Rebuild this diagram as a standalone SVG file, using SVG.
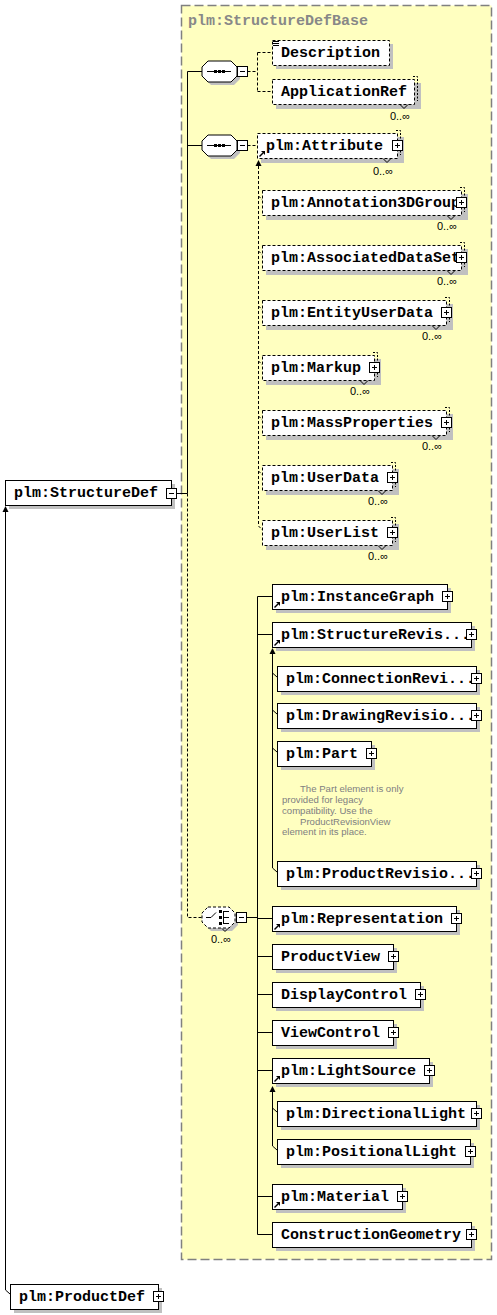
<svg xmlns="http://www.w3.org/2000/svg" width="497" height="1315" viewBox="0 0 497 1315">
<style>
.bg{fill:#ffffc0;stroke:#808080;stroke-width:1.5;stroke-dasharray:9 4}
.sh{fill:#c0c0c0}
.bx{fill:#fff;stroke:#000;stroke-width:1}
.o{stroke-dasharray:3 2}
.bk{fill:none;stroke:#000;stroke-dasharray:2 1.5}
.c{fill:none;stroke:#000;stroke-width:1}
.d{fill:none;stroke:#000;stroke-width:1;stroke-dasharray:3 2}
.t{font-family:"Liberation Mono",monospace;font-weight:bold;font-size:15px;fill:#000}
.tt{font-family:"Liberation Mono",monospace;font-weight:bold;font-size:15px;fill:#888}
.m{font-family:"Liberation Sans",Arial,sans-serif;font-size:11px;fill:#000}
.a{font-family:"Liberation Sans",Arial,sans-serif;font-size:9.6px;fill:#808080}
</style>
<defs>
<g id="pl"><rect x="0.5" y="0.5" width="10" height="10" fill="#fff" stroke="#000"/><path d="M3 5.5h5M5.5 3v5" stroke="#000"/></g>
<g id="mi"><rect x="0.5" y="0.5" width="10" height="10" fill="#fff" stroke="#000"/><path d="M3 5.5h5" stroke="#000"/></g>
<g id="rf"><path d="M1.5 7.5L5 4" stroke="#000" stroke-width="1.4"/><path d="M3 2H7V6Z" fill="#000"/></g>
</defs>

<rect class="bg" x="181.5" y="5.5" width="310" height="1254"/>
<text class="tt" x="188" y="25">plm:StructureDefBase</text>

<g id="connectors">
<path class="c" d="M176.5 493.5H187.5M187.5 71.5V493.5M187.5 71.5H202M187.5 145.5H202"/>
<path class="d" d="M187.5 493.5V917.5H202"/>
<path class="d" d="M247.5 71.5H257.5M257.5 52.5V91.5M257.5 52.5H272M257.5 91.5H272"/>
<path class="d" d="M247.5 145.5H257"/>
<path d="M255.5 166L258.5 160L261.5 166Z" fill="#000"/>
<path class="d" d="M258.5 166V526M258.5 526L262.5 530M258.5 196L262.5 200M258.5 251L262.5 255M258.5 306L262.5 310M258.5 361L262.5 365M258.5 416L262.5 420M258.5 471L262.5 475"/>
<path class="c" d="M246.5 917.5H257.5M257.5 596.5V1234.5M257.5 596.5H272M257.5 634.5H272M257.5 918.5H272M257.5 956.5H272M257.5 994.5H272M257.5 1032.5H272M257.5 1070.5H272M257.5 1196.5H272M257.5 1234.5H272"/>
<path d="M269.5 654L272.5 648L275.5 654Z" fill="#000"/>
<path class="c" d="M272.5 654V868L277 872M272.5 673L277 677M272.5 710L277 714M272.5 748L277 752"/>
<path d="M269.5 1092L272.5 1086L275.5 1092Z" fill="#000"/>
<path class="c" d="M272.5 1092V1146L277 1150M272.5 1108L277 1112"/>
<path d="M2.5 512L5.5 506L8.5 512Z" fill="#000"/>
<path class="c" d="M5.5 512V1290L10 1294"/>
</g>

<g id="seq1">
<path class="sh" d="M211,64 H234 L240,70 V79 L234,85 H211 L205,79 V70 Z"/>
<path class="bx" d="M208,61 H231 L237,67 V76 L231,82 H208 L202,76 V67 Z"/>
<path class="c" d="M207 71.5H231"/>
<rect x="214" y="70" width="3" height="3"/><rect x="218" y="70" width="3" height="3"/><rect x="222" y="70" width="3" height="3"/>
<use href="#mi" x="237" y="66"/>
</g>
<g id="seq2">
<path class="sh" d="M211,138 H234 L240,144 V153 L234,159 H211 L205,153 V144 Z"/>
<path class="bx" d="M208,135 H231 L237,141 V150 L231,156 H208 L202,150 V141 Z"/>
<path class="c" d="M207 145.5H231"/>
<rect x="214" y="144" width="3" height="3"/><rect x="218" y="144" width="3" height="3"/><rect x="222" y="144" width="3" height="3"/>
<use href="#mi" x="237" y="140"/>
</g>
<g id="choice">
<path class="sh" d="M211,910 H232 L238,916 V925 L232,931 H211 L205,925 V916 Z"/>
<path class="bx o" d="M208,907 H229 L235,913 V922 L229,928 H208 L202,922 V913 Z"/>
<path class="c" d="M206 917.5H211L216 912.5M223.5 911V924M223.5 911.5H229M223.5 917.5H229M223.5 923.5H229"/>
<rect x="219" y="910" width="3" height="3"/><rect x="219" y="916" width="3" height="3"/><rect x="219" y="922" width="3" height="3"/>
<path class="c" d="M222 928.5l3 3l3 -3"/>
<use href="#mi" x="236" y="912"/>
<text class="m" x="231" y="943" text-anchor="end">0..∞</text>
</g>

<g id="StructureDef">
<rect class="sh" x="9" y="484" width="166" height="25"/>
<rect class="bx" x="5.5" y="480.5" width="166" height="25"/>
<text class="t" x="14" y="497">plm:StructureDef</text>
<use href="#mi" x="166" y="488"/>
</g>
<g id="ProductDef">
<rect class="sh" x="14" y="1288" width="148" height="25"/>
<rect class="bx" x="10.5" y="1284.5" width="148" height="25"/>
<text class="t" x="19" y="1301">plm:ProductDef</text>
<use href="#pl" x="153" y="1291"/>
</g>

<g id="Description">
<rect class="sh" x="276" y="44" width="117" height="25"/>
<rect class="bx o" x="272.5" y="40.5" width="117" height="25"/>
<path class="c" d="M273 41.5h6M273 43.5h6M273 45.5h6"/>
<text class="t" x="281" y="57">Description</text>
</g>
<g id="ApplicationRef">
<rect class="sh" x="276" y="83" width="145" height="26"/>
<path class="bk" d="M413 76.5H417.5V101"/>
<rect class="bx o" x="272.5" y="79.5" width="142" height="25"/>
<path class="c" d="M400 104.5l4 4l4 -4"/>
<text class="t" x="281" y="96">ApplicationRef</text>
<text class="m" x="410" y="120" text-anchor="end">0..∞</text>
</g>
<g id="Attribute">
<rect class="sh" x="261" y="137" width="143" height="26"/>
<path class="bk" d="M396 130.5H400.5V155"/>
<rect class="bx o" x="257.5" y="133.5" width="140" height="25"/>
<path class="c" d="M383 158.5l4 4l4 -4"/>
<text class="t" x="266" y="150">plm:Attribute</text>
<use href="#rf" x="258" y="149"/>
<use href="#pl" x="392" y="140"/>
<text class="m" x="393" y="175" text-anchor="end">0..∞</text>
</g>
<g id="Annotation3DGroup">
<rect class="sh" x="266" y="194" width="202" height="26"/>
<path class="bk" d="M460 187.5H464.5V212"/>
<rect class="bx o" x="262.5" y="190.5" width="199" height="25"/>
<path class="c" d="M447 215.5l4 4l4 -4"/>
<text class="t" x="271" y="207">plm:Annotation3DGroup</text>
<use href="#pl" x="456" y="197"/>
<text class="m" x="457" y="230" text-anchor="end">0..∞</text>
</g>
<g id="AssociatedDataSet">
<rect class="sh" x="266" y="249" width="202" height="26"/>
<path class="bk" d="M460 242.5H464.5V267"/>
<rect class="bx o" x="262.5" y="245.5" width="199" height="25"/>
<path class="c" d="M447 270.5l4 4l4 -4"/>
<text class="t" x="271" y="262">plm:AssociatedDataSet</text>
<use href="#pl" x="456" y="252"/>
<text class="m" x="457" y="285" text-anchor="end">0..∞</text>
</g>
<g id="EntityUserData">
<rect class="sh" x="266" y="304" width="187" height="26"/>
<path class="bk" d="M445 297.5H449.5V322"/>
<rect class="bx o" x="262.5" y="300.5" width="184" height="25"/>
<path class="c" d="M432 325.5l4 4l4 -4"/>
<text class="t" x="271" y="317">plm:EntityUserData</text>
<use href="#pl" x="441" y="307"/>
<text class="m" x="442" y="340" text-anchor="end">0..∞</text>
</g>
<g id="Markup">
<rect class="sh" x="266" y="359" width="115" height="26"/>
<path class="bk" d="M373 352.5H377.5V377"/>
<rect class="bx o" x="262.5" y="355.5" width="112" height="25"/>
<path class="c" d="M360 380.5l4 4l4 -4"/>
<text class="t" x="271" y="372">plm:Markup</text>
<use href="#pl" x="369" y="362"/>
<text class="m" x="370" y="395" text-anchor="end">0..∞</text>
</g>
<g id="MassProperties">
<rect class="sh" x="266" y="414" width="187" height="26"/>
<path class="bk" d="M445 407.5H449.5V432"/>
<rect class="bx o" x="262.5" y="410.5" width="184" height="25"/>
<path class="c" d="M432 435.5l4 4l4 -4"/>
<text class="t" x="271" y="427">plm:MassProperties</text>
<use href="#pl" x="441" y="417"/>
<text class="m" x="442" y="450" text-anchor="end">0..∞</text>
</g>
<g id="UserData">
<rect class="sh" x="266" y="469" width="133" height="26"/>
<path class="bk" d="M391 462.5H395.5V487"/>
<rect class="bx o" x="262.5" y="465.5" width="130" height="25"/>
<path class="c" d="M378 490.5l4 4l4 -4"/>
<text class="t" x="271" y="482">plm:UserData</text>
<use href="#pl" x="387" y="472"/>
<text class="m" x="388" y="505" text-anchor="end">0..∞</text>
</g>
<g id="UserList">
<rect class="sh" x="266" y="524" width="133" height="26"/>
<path class="bk" d="M391 517.5H395.5V542"/>
<rect class="bx o" x="262.5" y="520.5" width="130" height="25"/>
<path class="c" d="M378 545.5l4 4l4 -4"/>
<text class="t" x="271" y="537">plm:UserList</text>
<use href="#pl" x="387" y="527"/>
<text class="m" x="388" y="560" text-anchor="end">0..∞</text>
</g>

<g id="InstanceGraph">
<rect class="sh" x="276" y="588" width="175" height="25"/>
<rect class="bx" x="272.5" y="584.5" width="175" height="25"/>
<text class="t" x="281" y="601">plm:InstanceGraph</text>
<use href="#rf" x="273" y="600"/>
<use href="#pl" x="442" y="591"/>
</g>
<g id="StructureRevisionView">
<rect class="sh" x="276" y="626" width="199" height="25"/>
<rect class="bx" x="272.5" y="622.5" width="199" height="25"/>
<text class="t" x="281" y="639">plm:StructureRevis...</text>
<use href="#rf" x="273" y="638"/>
<use href="#pl" x="466" y="629"/>
</g>
<g id="ConnectionRevisionView">
<rect class="sh" x="281" y="670" width="199" height="25"/>
<rect class="bx" x="277.5" y="666.5" width="199" height="25"/>
<text class="t" x="286" y="683">plm:ConnectionRevi...</text>
<use href="#pl" x="471" y="673"/>
</g>
<g id="DrawingRevisionView">
<rect class="sh" x="281" y="707" width="199" height="25"/>
<rect class="bx" x="277.5" y="703.5" width="199" height="25"/>
<text class="t" x="286" y="720">plm:DrawingRevisio...</text>
<use href="#pl" x="471" y="710"/>
</g>
<g id="Part">
<rect class="sh" x="281" y="745" width="94" height="25"/>
<rect class="bx" x="277.5" y="741.5" width="94" height="25"/>
<text class="t" x="286" y="758">plm:Part</text>
<use href="#pl" x="366" y="748"/>
<text class="a" x="300" y="792">The Part element is only</text>
<text class="a" x="282" y="803">provided for legacy</text>
<text class="a" x="282" y="814">compatibility. Use the</text>
<text class="a" x="300" y="824.5">ProductRevisionView</text>
<text class="a" x="282" y="835">element in its place.</text>
</g>
<g id="ProductRevisionView">
<rect class="sh" x="281" y="865" width="199" height="25"/>
<rect class="bx" x="277.5" y="861.5" width="199" height="25"/>
<text class="t" x="286" y="878">plm:ProductRevisio...</text>
<use href="#pl" x="471" y="868"/>
</g>
<g id="Representation">
<rect class="sh" x="276" y="910" width="184" height="25"/>
<rect class="bx" x="272.5" y="906.5" width="184" height="25"/>
<text class="t" x="281" y="923">plm:Representation</text>
<use href="#rf" x="273" y="922"/>
<use href="#pl" x="451" y="913"/>
</g>
<g id="ProductView">
<rect class="sh" x="276" y="948" width="121" height="25"/>
<rect class="bx" x="272.5" y="944.5" width="121" height="25"/>
<text class="t" x="281" y="961">ProductView</text>
<use href="#pl" x="388" y="951"/>
</g>
<g id="DisplayControl">
<rect class="sh" x="276" y="986" width="148" height="25"/>
<rect class="bx" x="272.5" y="982.5" width="148" height="25"/>
<text class="t" x="281" y="999">DisplayControl</text>
<use href="#pl" x="415" y="989"/>
</g>
<g id="ViewControl">
<rect class="sh" x="276" y="1024" width="121" height="25"/>
<rect class="bx" x="272.5" y="1020.5" width="121" height="25"/>
<text class="t" x="281" y="1037">ViewControl</text>
<use href="#pl" x="388" y="1027"/>
</g>
<g id="LightSource">
<rect class="sh" x="276" y="1062" width="157" height="25"/>
<rect class="bx" x="272.5" y="1058.5" width="157" height="25"/>
<text class="t" x="281" y="1075">plm:LightSource</text>
<use href="#rf" x="273" y="1074"/>
<use href="#pl" x="424" y="1065"/>
</g>
<g id="DirectionalLight">
<rect class="sh" x="281" y="1105" width="199" height="25"/>
<rect class="bx" x="277.5" y="1101.5" width="199" height="25"/>
<text class="t" x="286" y="1118">plm:DirectionalLight</text>
<use href="#pl" x="471" y="1108"/>
</g>
<g id="PositionalLight">
<rect class="sh" x="281" y="1143" width="193" height="25"/>
<rect class="bx" x="277.5" y="1139.5" width="193" height="25"/>
<text class="t" x="286" y="1156">plm:PositionalLight</text>
<use href="#pl" x="465" y="1146"/>
</g>
<g id="Material">
<rect class="sh" x="276" y="1188" width="130" height="25"/>
<rect class="bx" x="272.5" y="1184.5" width="130" height="25"/>
<text class="t" x="281" y="1201">plm:Material</text>
<use href="#rf" x="273" y="1200"/>
<use href="#pl" x="397" y="1191"/>
</g>
<g id="ConstructionGeometry">
<rect class="sh" x="276" y="1226" width="199" height="25"/>
<rect class="bx" x="272.5" y="1222.5" width="199" height="25"/>
<text class="t" x="281" y="1239">ConstructionGeometry</text>
<use href="#pl" x="466" y="1229"/>
</g>
</svg>
